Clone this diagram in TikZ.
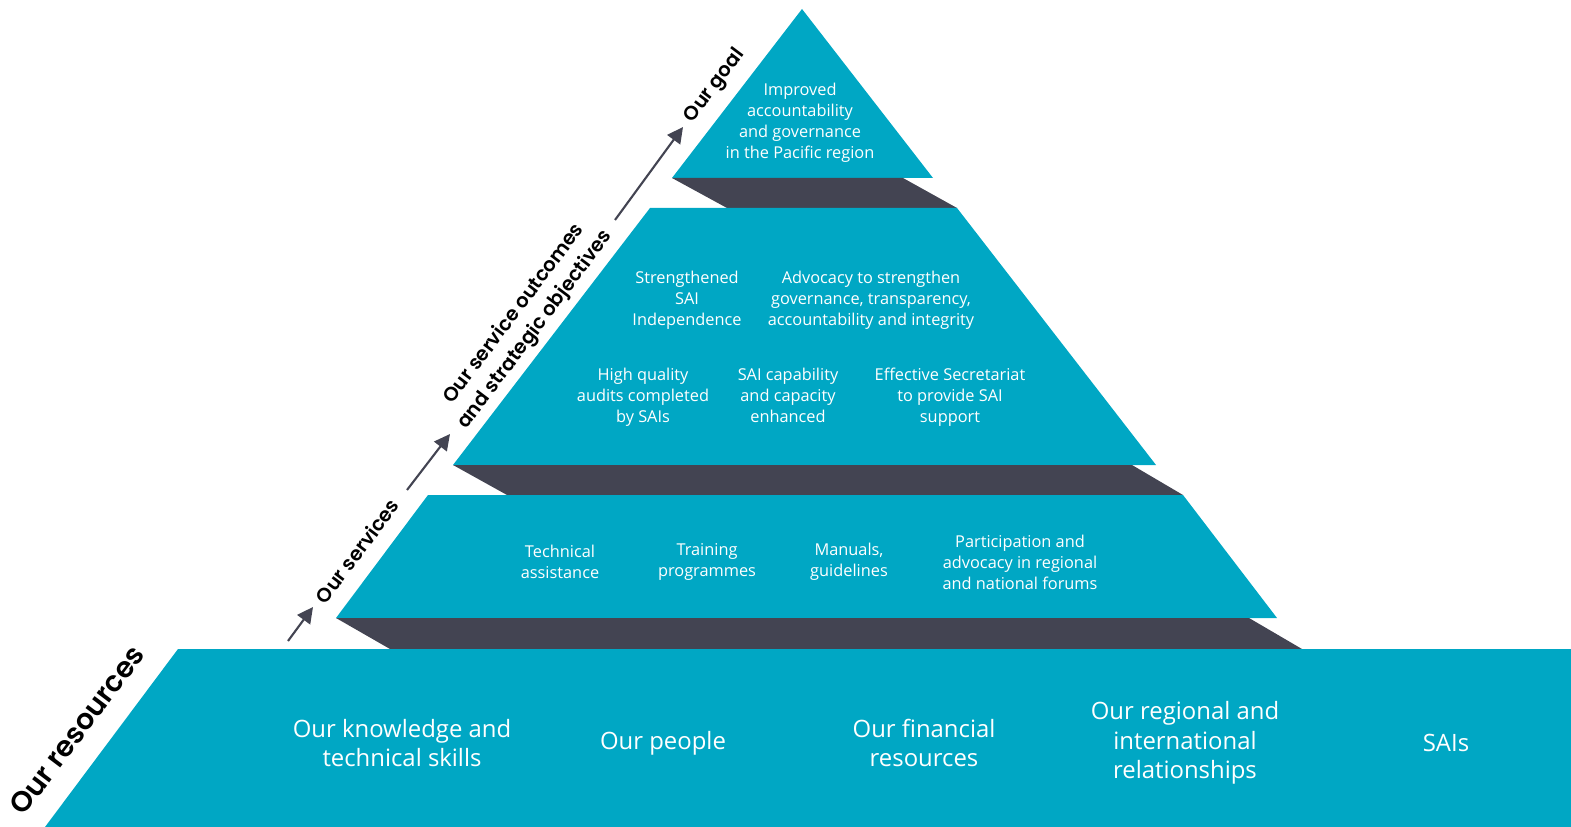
\documentclass[tikz,border=0pt]{standalone}
\usepackage{fontspec}
\setmainfont{Open Sans}
\newfontfamily\labelfont{Poppins}[BoldFont={* SemiBold}]
\usetikzlibrary{arrows.meta,positioning}
\definecolor{pyrteal}{RGB}{0,167,196}
\definecolor{pyrdark}{RGB}{67,68,82}
\tikzset{
  tier/.style={fill=pyrteal},
  ledge/.style={fill=pyrdark},
  intext/.style={text=white,align=center,inner sep=1pt,yshift=-1.7pt,font=\fontsize{9.3}{11.9}\selectfont},
  basetext/.style={text=white,align=center,inner sep=1pt,yshift=-1.7pt,font=\fontsize{13.6}{16.8}\selectfont},
  steplabel/.style={rotate=53,align=center,inner sep=0pt,font=\labelfont\bfseries\fontsize{11.2}{15}\selectfont},
  rise/.style={draw=pyrdark,line width=1.2pt,-{Triangle[length=9pt,width=9pt]}}
}
\begin{document}
\begin{tikzpicture}[x=0.02cm,y=-0.02cm]
  \useasboundingbox (0,0) rectangle (1571,827);
  % pyramid tiers and their ledges
  \fill[tier] (802,9)--(933,178)--(672,178)--cycle;
  \fill[ledge] (672,178)--(903,178)--(957,208)--(727,208)--cycle;
  \fill[tier] (650,208)--(957,208)--(1156,465)--(453,465)--cycle;
  \fill[ledge] (453,465)--(1132,465)--(1183,495)--(507,495)--cycle;
  \fill[tier] (428,495)--(1183,495)--(1277,618)--(336,618)--cycle;
  \fill[ledge] (336,618)--(1249,618)--(1302,649)--(390,649)--cycle;
  \fill[tier] (178,649)--(1571,649)--(1571,827)--(45,827)--cycle;

  % goal
  \node[intext] (goal) at (800,120) {Improved\\accountability\\and governance\\in the Pacific region};

  % outcomes
  \node[intext] (indep) at (687,297) {Strengthened\\SAI\\Independence};
  \node[intext] (advoc) at (871,297) {Advocacy to strengthen\\governance, transparency,\\accountability and integrity};
  \node[intext] (audits) at (643,394) {High quality\\audits completed\\by SAIs};
  \node[intext] (capab) at (788,392) {SAI capability\\and capacity\\enhanced};
  \node[intext] (secr) at (950,394) {Effective Secretariat\\to provide SAI\\support};

  % services
  \node[intext] (techass) at (560,559) {Technical\\assistance};
  \node[intext] (train) at (707,559) {Training\\programmes};
  \node[intext] (manual) at (849,559) {Manuals,\\guidelines};
  \node[intext] (forums) at (1020,559) {Participation and\\advocacy in regional\\and national forums};

  % resources
  \node[basetext] (skills) at (402,740) {Our knowledge and\\technical skills};
  \node[basetext] (people) at (663,740) {Our people};
  \node[basetext] (finance) at (924,740) {Our financial\\resources};
  \node[basetext] (relat) at (1185,740) {Our regional and\\international\\relationships};
  \node[basetext] (sais) at (1446,740) {SAIs};

  % labels along the side
  \node[steplabel,font=\labelfont\bfseries\fontsize{16.2}{18}\selectfont] (lres) at (77,730) {Our resources};
  \node[steplabel] (lserv) at (357,551) {Our services};
  \node[steplabel] (lout) at (525,322) {Our service outcomes\\and strategic objectives};
  \node[steplabel] (lgoal) at (715,86) {Our goal};

  \coordinate (a1s) at (288,641); \coordinate (a1e) at (313,607);
  \coordinate (a2s) at (407,490); \coordinate (a2e) at (450,434);
  \coordinate (a3s) at (615,220); \coordinate (a3e) at (683,127);
  \draw[rise] (a1s)--(a1e);
  \draw[rise] (a2s)--(a2e);
  \draw[rise] (a3s)--(a3e);
\end{tikzpicture}
\end{document}
